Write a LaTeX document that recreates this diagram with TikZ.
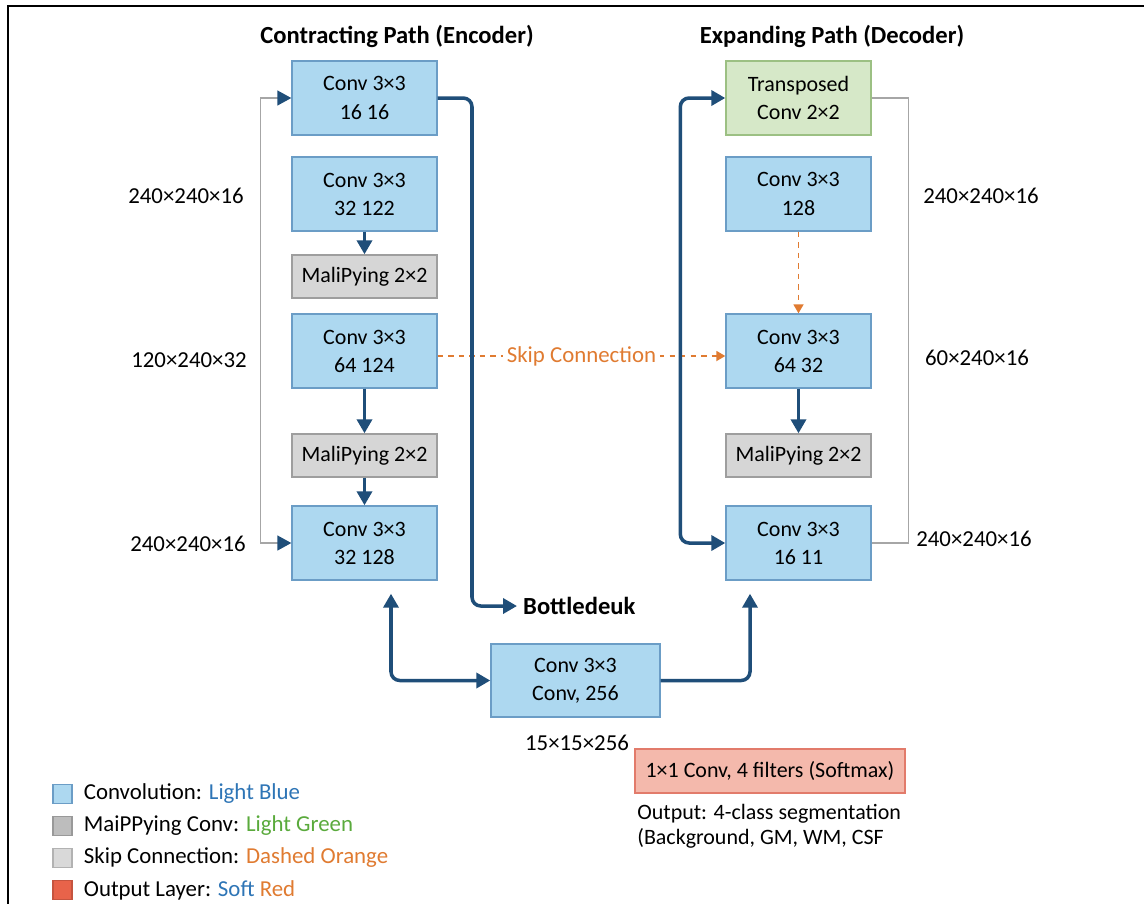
\documentclass[tikz,border=0pt]{standalone}
\usepackage{fontspec}
\setmainfont{Carlito}
\usetikzlibrary{arrows.meta,positioning,calc}
\definecolor{unetblue}{HTML}{ADD8F0}
\definecolor{unetblueline}{HTML}{6B9DC6}
\definecolor{unetnavy}{HTML}{1F4E79}
\definecolor{unetgray}{HTML}{D6D6D6}
\definecolor{unetgrayline}{HTML}{9E9E9E}
\definecolor{unetgreen}{HTML}{D6E8C8}
\definecolor{unetgreenline}{HTML}{9CC083}
\definecolor{unetorange}{HTML}{E07B31}
\definecolor{unetred}{HTML}{F4B9AC}
\definecolor{unetredline}{HTML}{E27B6B}
\definecolor{unetwire}{HTML}{A6A6A6}
\definecolor{legblue}{HTML}{2E75B6}
\definecolor{leggreen}{HTML}{5AAA3C}
\definecolor{legred}{HTML}{E8634A}

\begin{document}
\begin{tikzpicture}[x=.02cm,y=-.02cm,font=\fontsize{12.5}{16}\selectfont,
  >={Triangle[length=.28cm,width=.3cm]},
  conv/.style={draw=unetblueline,fill=unetblue,line width=.8pt,minimum width=2.9cm,minimum height=1.48cm,align=center,inner sep=0pt},
  pool/.style={draw=unetgrayline,fill=unetgray,line width=.8pt,minimum width=2.9cm,minimum height=.86cm,inner sep=0pt},
  trans/.style={conv,draw=unetgreenline,fill=unetgreen},
  outbox/.style={draw=unetredline,fill=unetred,line width=.8pt,minimum width=5.4cm,minimum height=.88cm,inner sep=0pt,font=\fontsize{12.5}{15}\selectfont},
  flow/.style={draw=unetnavy,line width=2pt,->,rounded corners=5pt},
  wire/.style={draw=unetwire,line width=.8pt,>={Triangle[length=.28cm,width=.3cm,color=unetnavy]}},
  skip/.style={draw=unetorange,dashed,line width=1pt,->,>={Triangle[length=.18cm,width=.2cm]}},
  dim/.style={font=\fontsize{13}{15}\selectfont},
  title/.style={font=\fontsize{14}{16}\selectfont\bfseries},
  legsq/.style={minimum size=.38cm,inner sep=0pt,line width=.8pt},
  legtext/.style={font=\fontsize{13}{15}\selectfont,right=.1cm of #1}]
\useasboundingbox (0,0) rectangle (1144,904);
\fill[white] (0,0) rectangle (1144,904);
\draw[line width=1.5pt] (1144,6) -- (8,6) -- (8,904);

% headings
\node[title] (enctitle) at (397,36) {Contracting Path (Encoder)};
\node[title] (dectitle) at (832,36) {Expanding Path (Decoder)};

% encoder column
\node[conv] (e1) at (364.5,98) {Conv 3×3\\16 16};
\node[conv] (e2) at (364.5,194) {Conv 3×3\\32 122};
\node[pool] (p1) at (364.5,276.5) {MaliPying 2×2};
\node[conv] (e3) at (364.5,351) {Conv 3×3\\64 124};
\node[pool] (p2) at (364.5,455.5) {MaliPying 2×2};
\node[conv] (e4) at (364.5,543) {Conv 3×3\\32 128};

% decoder column
\node[trans] (d1) at (798.5,98) {Transposed\\Conv 2×2};
\node[conv] (d2) at (798.5,194) {Conv 3×3\\128};
\node[conv] (d3) at (798.5,351) {Conv 3×3\\64 32};
\node[pool] (p3) at (798.5,455.5) {MaliPying 2×2};
\node[conv] (d4) at (798.5,543) {Conv 3×3\\16 11};

% bottleneck and output
\node[font=\fontsize{14}{16}\selectfont\bfseries,anchor=west] (bneck) at (517,606) {Bottledeuk};
\node[conv,minimum width=3.38cm,minimum height=1.46cm] (mid) at (575.5,680.5) {Conv 3×3\\Conv, 256};
\node[outbox] (out) at (770,771) {1×1 Conv, 4 filters (Softmax)};
\node[anchor=base west,inner sep=0pt,font=\fontsize{12.5}{15}\selectfont] (outnote1) at (637,819) {Output: 4-class segmentation};
\node[anchor=base west,inner sep=0pt,font=\fontsize{12.5}{15}\selectfont] (outnote2) at (637,844) {(Background, GM, WM, CSF};

% feature map sizes
\node[dim] (s1) at (186,196) {240×240×16};
\node[dim] (s2) at (189,360) {120×240×32};
\node[dim] (s3) at (188,544) {240×240×16};
\node[dim] (s4) at (981,196) {240×240×16};
\node[dim] (s5) at (977,358) {60×240×16};
\node[dim] (s6) at (974,539) {240×240×16};
\node[dim] (s7) at (577,743) {15×15×256};

% connectors
\draw[flow] (e2) -- (p1);
\draw[flow] (e3) -- (p2);
\draw[flow] (p2) -- (e4);
\draw[flow] (d3) -- (p3);
\draw[skip] (d2) -- (d3);
\draw[skip] ([yshift=-.1cm]e3.east) -- node[fill=white,text=unetorange,font=\fontsize{13}{15}\selectfont,inner sep=2pt] (skiplabel) {Skip Connection} ([yshift=-.1cm]d3.west);
\draw[wire,<->] (e1.west) -- ++(-31,0) |- (e4.west);
\draw[wire] (d1.east) -- ++(37,0) |- (d4.east);
\draw[flow] (e1.east) -| ($(bneck.west)+(-45,0)$) -- (bneck.west);
\draw[flow,<->] (d1.west) -- ++(-45,0) |- (d4.west);
\draw[flow,<->] ([xshift=.53cm,yshift=-.26cm]e4.south) |- (mid.west);
\draw[flow] (mid.east) -| ([xshift=-.97cm,yshift=-.26cm]d4.south);

% legend
\node[legsq,fill=unetblue,draw=unetblueline] (lg1) at (62.5,794) {};
\node[legsq,fill=black!26,draw=black!40] (lg2) at (62.5,826) {};
\node[legsq,fill=black!15,draw=black!30] (lg3) at (62.5,858) {};
\node[legsq,fill=legred,draw=legred!85!black] (lg4) at (62.5,890) {};
\node[legtext=lg1] (lt1) {Convolution: \textcolor{legblue}{Light Blue}};
\node[legtext=lg2] (lt2) {MaiPPying Conv: \textcolor{leggreen}{Light Green}};
\node[legtext=lg3] (lt3) {Skip Connection: \textcolor{unetorange}{Dashed Orange}};
\node[legtext=lg4] (lt4) {Output Layer: \textcolor{legblue}{Soft} \textcolor{unetorange}{Red}};
\end{tikzpicture}
\end{document}
